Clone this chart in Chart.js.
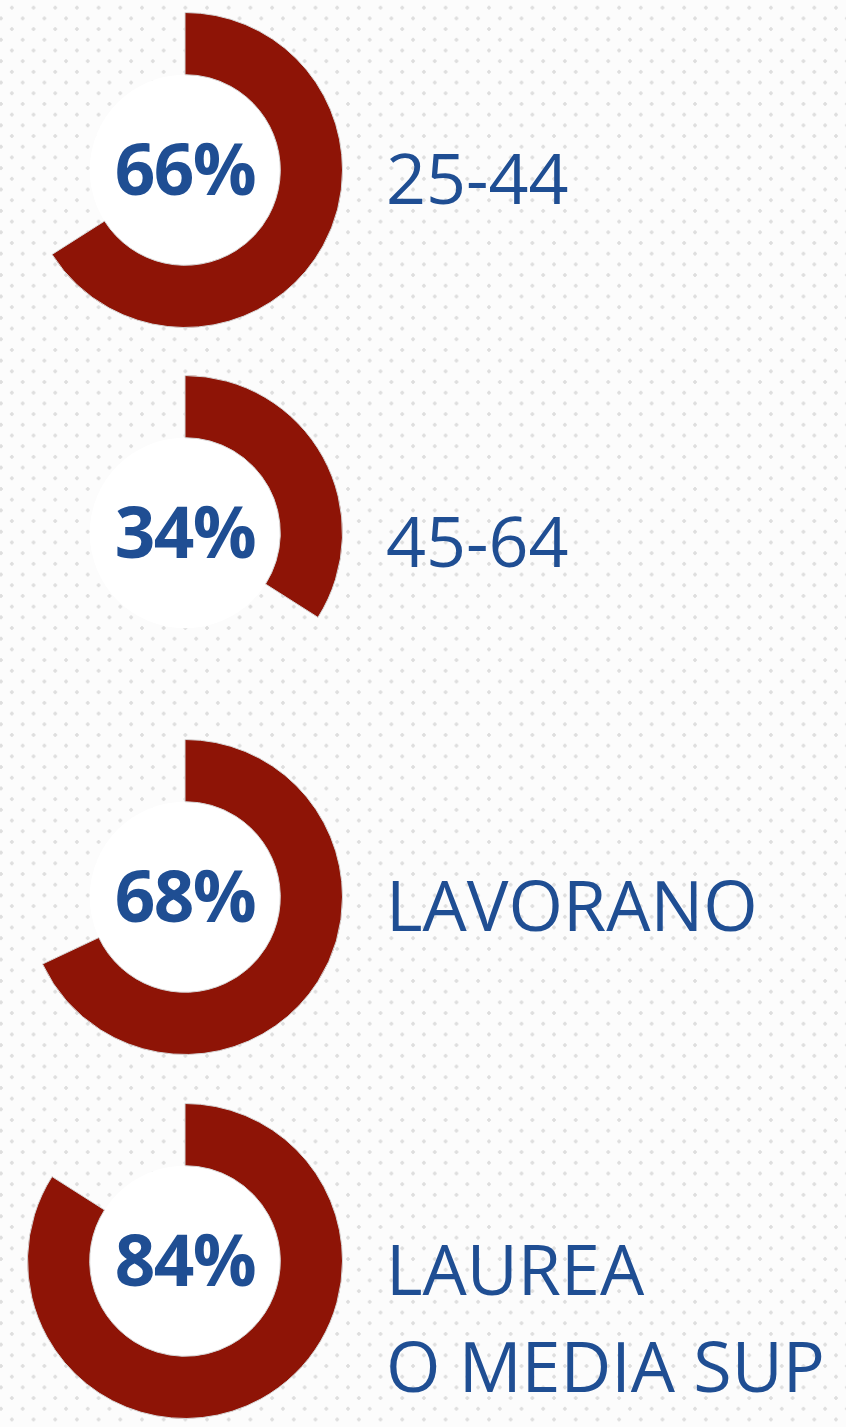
<!DOCTYPE html>
<html>
<head>
<meta charset="utf-8">
<script src="https://cdn.jsdelivr.net/npm/chart.js@4.4.1/dist/chart.umd.min.js"></script>
<style>
  html, body { margin: 0; padding: 0; }
  body {
    width: 846px; height: 1427px; position: relative; overflow: hidden;
    background-color: #fcfcfc;
    background-image:
      radial-gradient(circle, #dedede 1.5px, transparent 2px),
      radial-gradient(circle, #dedede 1.5px, transparent 2px);
    background-size: 21.7px 21.4px;
    background-position: 1px -3px, 11.85px 7.7px;
    font-family: "Open Sans", sans-serif;
  }
  .ring { position: absolute; left: 27px; width: 316px; height: 316px; }
  .pct {
    position: absolute; left: 27px; width: 316px; text-align: center;
    font-weight: 700; font-size: 71px; line-height: 72px; color: #1f4e93;
    letter-spacing: -1.5px;
  }
  .lbl {
    position: absolute; left: 386px; white-space: nowrap;
    font-size: 70px; line-height: 97px; color: #1f4e93;
  }
</style>
</head>
<body>
<script>
// values
const categories = ["25-44", "45-64", "LAVORANO", "LAUREA\nO MEDIA SUP"];
const shares = [66, 34, 68, 84];
const centres = [170, 533, 897, 1261];

const arcRed = "#8e1406";

// white disc behind the centre label
const innerDisc = {
  id: "innerDisc",
  beforeDatasetsDraw(chart) {
    const arc = chart.getDatasetMeta(0).data[0];
    const ctx = chart.ctx;
    ctx.save();
    ctx.beginPath();
    ctx.arc(arc.x, arc.y, arc.innerRadius, 0, Math.PI * 2);
    ctx.fillStyle = "#ffffff";
    ctx.fill();
    ctx.restore();
  }
};

categories.forEach((cat, i) => {
  const cy = centres[i];
  const cv = document.createElement("canvas");
  cv.className = "ring";
  cv.width = 316; cv.height = 316;
  cv.style.top = (cy - 158) + "px";
  document.body.appendChild(cv);

  new Chart(cv, {
    type: "doughnut",
    data: {
      labels: [cat, ""],
      datasets: [{
        data: [shares[i], 100 - shares[i]],
        backgroundColor: [arcRed, "rgba(0,0,0,0)"],
        borderColor: ["#d6d6d6", "rgba(0,0,0,0)"],
        borderWidth: [1, 0]
      }]
    },
    options: {
      responsive: false,
      animation: false,
      cutout: "60.5%",
      layout: { padding: 0 },
      plugins: { legend: { display: false }, tooltip: { enabled: false } },
      events: []
    },
    plugins: [innerDisc]
  });

  const p = document.createElement("div");
  p.className = "pct";
  p.textContent = shares[i] + "%";
  p.style.top = (cy - 38) + "px";
  document.body.appendChild(p);

  const lines = cat.split("\n");
  const l = document.createElement("div");
  l.className = "lbl";
  l.innerHTML = lines.join("<br>");
  // cap middle sits ~9px below the ring centre
  l.style.top = (cy + 9 - 50) + "px";
  document.body.appendChild(l);
});
</script>
</body>
</html>
